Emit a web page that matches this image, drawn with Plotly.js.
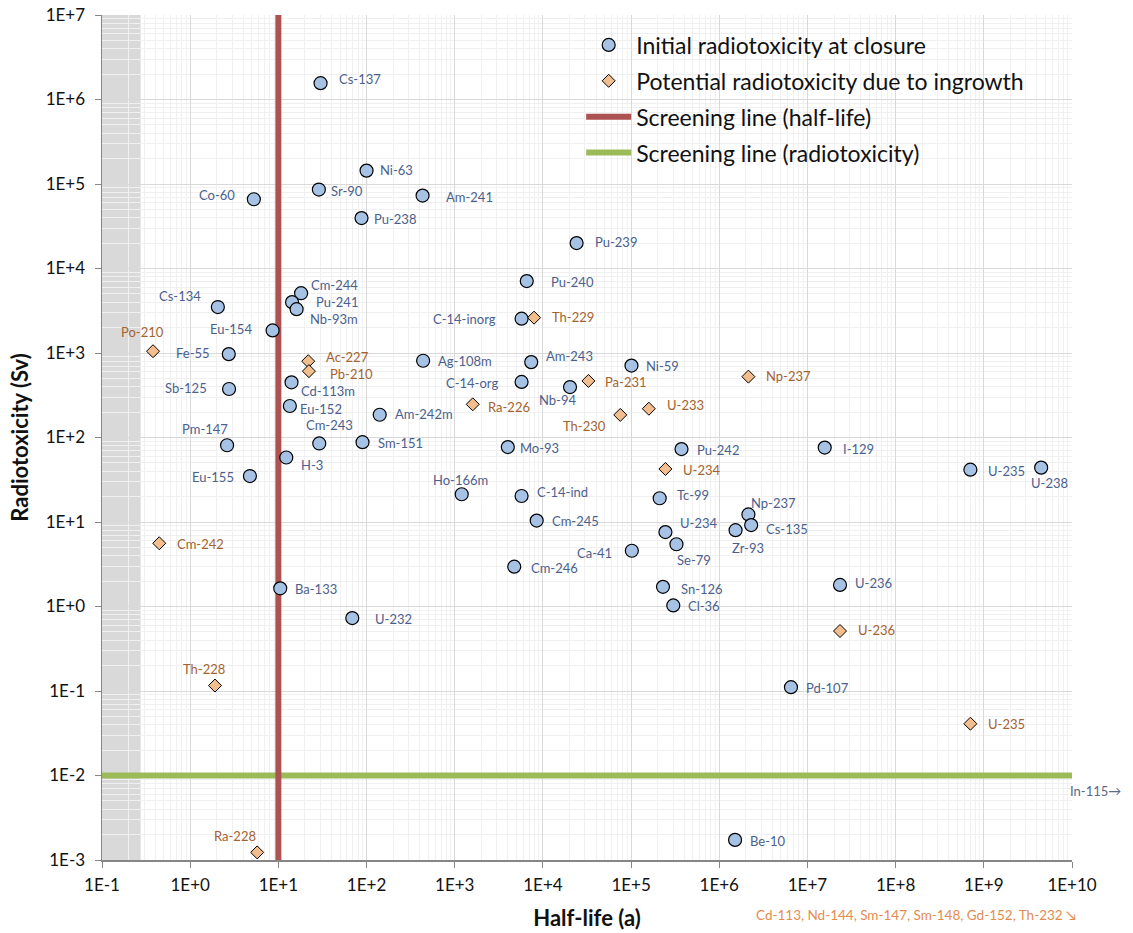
<!DOCTYPE html>
<html>
<head>
<meta charset="utf-8">
<script src="https://cdn.plot.ly/plotly-3.0.1.min.js"></script>
<style>
html,body{margin:0;padding:0;background:#fff;}
#chart{width:1133px;height:933px;}
</style>
</head>
<body>
<div id="chart"></div>
<script>
// ---------- DATA ----------
const initNames = ["Cs-137","Co-60","Ni-63","Sr-90","Am-241","Pu-238","Pu-239","Pu-240","Cs-134","Cm-244",
  "Pu-241","Nb-93m","C-14-inorg","Eu-154","Fe-55","Ag-108m","Am-243","Ni-59","Sb-125","Cd-113m",
  "C-14-org","Nb-94","Eu-152","Am-242m","Pm-147","Cm-243","Sm-151","Mo-93","Pu-242","I-129",
  "U-235","U-238","H-3","Eu-155","Ho-166m","C-14-ind","Tc-99","Cm-245","U-234","Np-237",
  "Cs-135","Zr-93","Se-79","Ca-41","Cm-246","Sn-126","Ba-133","U-236","Cl-36","U-232",
  "Pd-107","Be-10"];
const initHalfLife = [30.1,5.27,100,28.8,432,87.7,24100,6560,2.06,18.1,
  14.3,16.1,5730,8.6,2.74,438,7370,101000,2.76,14.1,
  5730,20300,13.5,141,2.62,29.1,90,4000,3.73e5,1.57e7,
  7.04e8,4.47e9,12.3,4.76,1200,5730,2.11e5,8500,2.45e5,2.14e6,
  2.3e6,1.53e6,3.27e5,1.02e5,4730,2.3e5,10.5,2.34e7,3.01e5,68.9,
  6.5e6,1.51e6];
const initTox = [1.56e6,6.6e4,1.44e5,8.6e4,7.3e4,3.95e4,2.0e4,7.1e3,3.5e3,5.1e3,
  4.0e3,3.3e3,2.55e3,1.85e3,970,810,780,710,375,450,
  455,395,236,186,81,85,88,77,73,76,
  41.6,44,58,35,21.3,20.3,19.1,10.4,7.6,12.3,
  9.2,8.0,5.45,4.57,2.96,1.71,1.64,1.8,1.03,0.73,
  0.111,1.73e-3];

const ingNames = ["Po-210","Ac-227","Pb-210","Th-229","Pa-231","Np-237","Ra-226","Th-230","U-233","U-234",
  "Cm-242","U-236","Th-228","U-235","Ra-228"];
const ingHalfLife = [0.379,21.8,22.2,7932,32800,2.14e6,1600,75400,1.59e5,2.45e5,
  0.446,2.34e7,1.91,7.04e8,5.75];
const ingTox = [1050,800,610,2620,467,525,247,185,219,42.4,
  5.6,0.513,0.116,0.041,1.23e-3];

const screenHalfLife = 10;      // a
const screenTox = 0.01;         // Sv
const shadeHalfLifeMax = 0.274; // a (100 days)

const xTickVals = [0.1,1,10,100,1e3,1e4,1e5,1e6,1e7,1e8,1e9,1e10];
const xTickText = ["1E-1","1E+0","1E+1","1E+2","1E+3","1E+4","1E+5","1E+6","1E+7","1E+8","1E+9","1E+10"];
const yTickVals = [1e-3,1e-2,0.1,1,10,100,1e3,1e4,1e5,1e6,1e7];
const yTickText = ["1E-3","1E-2","1E-1","1E+0","1E+1","1E+2","1E+3","1E+4","1E+5","1E+6","1E+7"];

const offScaleRight = "In-115\u2192";
const offScaleBelow = "Cd-113, Nd-144, Sm-147, Sm-148, Gd-152, Th-232 \u2198";

// ---------- LABEL PLACEMENT (anchor, dx px, dy px down) ----------
const initPlace = [["L",17,-4],["R",-18,-4],["L",12,-1],["L",11,1],["L",22,1],["L",11,1],["L",17,-1],["L",23,1],["R",-16,-11],["L",9,-8],
  ["L",23,0],["L",12,10],["R",-25,0],["R",-20,-1],["R",-18,-1],["L",14,0],["L",14,-6],["L",14,0],["R",-21,-1],["L",8,9],
  ["R",-23,1],["C",-13,13],["L",9,3],["L",14,-1],["C",-22,-16],["C",10,-18],["L",14,1],["L",11,1],["L",14,1],["L",17,1],
  ["L",17,1],["C",8,15],["L",14,8],["R",-15,1],["C",-1,-14],["L",14,-4],["L",16,-3],["L",14,0],["L",14,-9],["C",25,-11],
  ["L",14,4],["C",12,18],["C",18,16],["R",-19,2],["L",16,1],["L",17,2],["L",14,1],["L",14,-2],["L",14,1],["L",22,1],
  ["L",14,1],["L",14,1]];
const ingPlace = [["C",-11,-19],["L",17,-4],["L",20,3],["L",17,-1],["L",16,1],["L",17,-1],["L",14,3],["C",-36,11],["L",17,-4],["L",17,1],
  ["L",17,1],["L",17,-1],["C",-11,-17],["L",17,0],["C",-22,-16]];

// ---------- STYLE ----------
const FONT = "Lato, 'Open Sans', sans-serif";
const blueLabel = "#4B5F8E";
const orangeLabel = "#A5622F";

function makeLabels(names, xs, ys, place, color) {
  return names.map((n, i) => {
    const p = place[i];
    return {
      x: Math.log10(xs[i]), y: Math.log10(ys[i]), xref: "x", yref: "y",
      text: n, showarrow: false, borderpad: 0,
      xanchor: p[0] === "L" ? "left" : (p[0] === "R" ? "right" : "center"),
      yanchor: "middle",
      xshift: p[1], yshift: -p[2],
      font: {family: FONT, size: 13, color: color}
    };
  });
}

const traces = [
  {
    x: [xTickVals[0], xTickVals[xTickVals.length - 1]], y: [screenTox, screenTox],
    mode: "lines", name: "Screening line (radiotoxicity)",
    line: {color: "#9BBB59", width: 6}, legendrank: 4, legendgroup: "g4",
    hoverinfo: "skip"
  },
  {
    x: [screenHalfLife, screenHalfLife], y: [yTickVals[0], yTickVals[yTickVals.length - 1]],
    mode: "lines", name: "Screening line (half-life)",
    line: {color: "#AE5151", width: 6}, legendrank: 3, legendgroup: "g3",
    hoverinfo: "skip"
  },
  {
    x: ingHalfLife, y: ingTox, text: ingNames, mode: "markers",
    name: "Potential radiotoxicity due to ingrowth",
    marker: {symbol: "diamond", size: 10, color: "#F2BE8D", line: {color: "#000", width: 1}},
    legendrank: 2, legendgroup: "g2", cliponaxis: false
  },
  {
    x: initHalfLife, y: initTox, text: initNames, mode: "markers",
    name: "Initial radiotoxicity at closure",
    marker: {symbol: "circle", size: 13, color: "#A6C3E6", line: {color: "#000", width: 1.2}},
    legendrank: 1, legendgroup: "g1", cliponaxis: false
  }
];

const annotations = []
  .concat(makeLabels(initNames, initHalfLife, initTox, initPlace, blueLabel))
  .concat(makeLabels(ingNames, ingHalfLife, ingTox, ingPlace, orangeLabel))
  .concat([
    {xref: "paper", yref: "paper", x: 0.996, y: 0.082, xanchor: "left", yanchor: "middle",
     text: offScaleRight, showarrow: false, font: {family: FONT, size: 13, color: "#5B6A87"}},
    {xref: "paper", yref: "paper", x: 1.006, y: -0.065, xanchor: "right", yanchor: "middle",
     text: offScaleBelow, showarrow: false, font: {family: FONT, size: 13.5, color: "#E58B4F"}}
  ]);

const axisCommon = {
  type: "log",
  showgrid: true, gridcolor: "#D9D9D9", gridwidth: 1,
  minor: {dtick: "D1", showgrid: true, gridcolor: "#F0F0F0", gridwidth: 1, ticks: ""},
  showline: true, linecolor: "#868686", linewidth: 1.5,
  ticks: "outside", ticklen: 6, tickcolor: "#868686",
  tickmode: "array",
  tickfont: {family: FONT, size: 17, color: "#111"},
  zeroline: false
};

const layout = {
  width: 1133, height: 933,
  margin: {l: 102, r: 61, t: 15, b: 73},
  paper_bgcolor: "#fff", plot_bgcolor: "#fff",
  showlegend: true,
  legend: {
    x: 0.494, y: 0.99, xanchor: "left", yanchor: "top",
    bgcolor: "rgba(0,0,0,0)", borderwidth: 0,
    font: {family: FONT, size: 23, color: "#111"},
    tracegroupgap: 3, traceorder: "grouped", itemwidth: 45
  },
  xaxis: Object.assign({}, axisCommon, {
    range: [-1, 10], tickvals: xTickVals, ticktext: xTickText, ticklabelstandoff: 3,
    title: {text: "<b>Half-life (a)</b>", font: {family: FONT, size: 22, color: "#111"}, standoff: 16}
  }),
  yaxis: Object.assign({}, axisCommon, {
    range: [-3, 7], tickvals: yTickVals, ticktext: yTickText, ticklabelstandoff: 6,
    title: {text: "<b>Radiotoxicity (Sv)</b>", font: {family: FONT, size: 22, color: "#111"}, standoff: 11}
  }),
  shapes: [{
    type: "rect", xref: "x", yref: "paper", layer: "below",
    x0: xTickVals[0], x1: shadeHalfLifeMax, y0: 0, y1: 1,
    fillcolor: "#D9D9D9", line: {width: 0}
  }],
  annotations: annotations,
  hovermode: false
};

Plotly.newPlot("chart", traces, layout, {displayModeBar: false, staticPlot: true});
</script>
</body>
</html>
